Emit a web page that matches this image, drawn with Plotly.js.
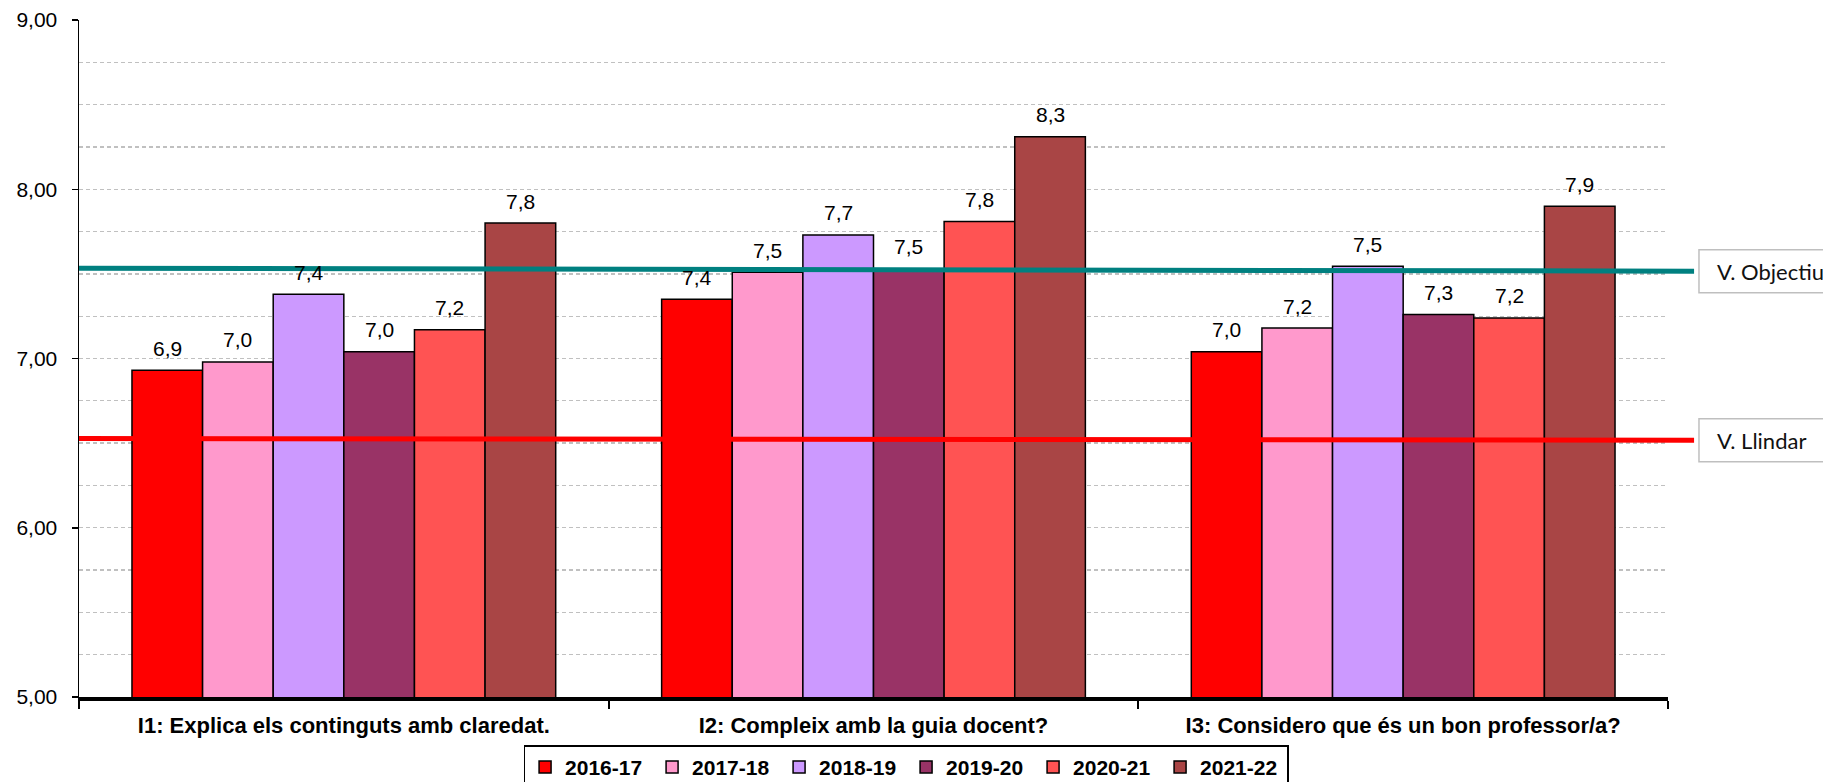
<!DOCTYPE html>
<html>
<head>
<meta charset="utf-8">
<script src="https://cdn.plot.ly/plotly-3.0.1.min.js"></script>
<style>html,body{margin:0;padding:0;background:#fff;}#chart{width:1823px;height:782px;}</style>
</head>
<body>
<div id="chart"></div>
<script>
var categories = ["I1: Explica els continguts amb claredat.", "I2: Compleix amb la guia docent?", "I3: Considero que és un bon professor/a?"];
var seriesNames = ["2016-17", "2017-18", "2018-19", "2019-20", "2020-21", "2021-22"];
var v2016 = [6.93, 7.35, 7.04];
var v2017 = [6.98, 7.51, 7.18];
var v2018 = [7.38, 7.73, 7.545];
var v2019 = [7.04, 7.53, 7.26];
var v2020 = [7.17, 7.81, 7.24];
var v2021 = [7.80, 8.31, 7.90];
var objectiuLine = [7.533, 7.516];
var llindarLine = [6.527, 6.517];
var lineLabels = ["V. Objectiu", "V. Llindar"];

var seriesValues = [v2016, v2017, v2018, v2019, v2020, v2021];
var colors = ["#FF0000", "#FF99CC", "#CC99FF", "#993366", "#FF5353", "#A94545"];

var FONT = "'Liberation Sans', Arial, sans-serif";
var traces = seriesValues.map(function (vals, i) {
  return {
    type: "bar",
    name: seriesNames[i],
    x: categories,
    y: vals,
    marker: { color: colors[i], line: { color: "#000", width: 1.5 } },
    hoverinfo: "skip"
  };
});

var fmt = function (v) { return (Math.round(v * 10) / 10).toFixed(1).replace(".", ","); };
var annotations = [];
var nS = seriesValues.length, groupW = 0.8, barW = groupW / nS;
seriesValues.forEach(function (vals, i) {
  vals.forEach(function (v, c) {
    annotations.push({
      x: c - groupW / 2 + barW * (i + 0.5), xref: "x",
      y: v, yref: "y",
      text: fmt(v), showarrow: false,
      yanchor: "middle", yshift: 22,
      font: { family: FONT, size: 21, color: "#000" }
    });
  });
});

var xEnd = 1.0164;
var boxX0 = 1.0195, textX = 1.0296;
var refLines = [
  { vals: objectiuLine, color: "#008080", label: lineLabels[0] },
  { vals: llindarLine, color: "#FF0000", label: lineLabels[1] }
];
var shapes = [];
refLines.forEach(function (r) {
  shapes.push({ type: "line", xref: "paper", yref: "y", x0: 0, x1: xEnd, y0: r.vals[0], y1: r.vals[1],
    line: { color: r.color, width: 5 } });
  shapes.push({ type: "rect", xref: "paper", yref: "y", x0: boxX0, x1: 1.3, y0: r.vals[1] - 0.127, y1: r.vals[1] + 0.127,
    line: { color: "#BFBFBF", width: 1.5 }, fillcolor: "#fff" });
  annotations.push({ xref: "paper", yref: "y", x: textX, y: r.vals[1], xanchor: "left", yanchor: "middle",
    text: r.label, showarrow: false, font: { family: "Lato, 'Open Sans', sans-serif", size: 22, color: "#111" } });
});

var layout = {
  width: 1823, height: 782,
  margin: { l: 79, r: 155, t: 20, b: 84.5, autoexpand: false },
  paper_bgcolor: "#fff", plot_bgcolor: "#fff",
  separators: ", ",
  barmode: "group", bargap: 0.2, bargroupgap: 0,
  showlegend: true,
  legend: {
    orientation: "h", xref: "paper", x: 0.5205, xanchor: "center",
    yref: "container", y: 0.047, yanchor: "top",
    bordercolor: "#000", borderwidth: 1.5, bgcolor: "#fff",
    font: { family: FONT, size: 21, color: "#000", weight: "bold" },
    traceorder: "normal", entrywidth: 82, itemwidth: 30
  },
  xaxis: {
    type: "category", automargin: false,
    showline: true, linecolor: "#000", linewidth: 3.5,
    ticks: "outside", tickson: "boundaries", ticklen: 8, tickwidth: 2, tickcolor: "#000",
    tickfont: { family: FONT, size: 22, color: "#000", weight: "bold" },
    ticklabelstandoff: 6,
    showgrid: false, zeroline: false, fixedrange: true
  },
  yaxis: {
    range: [5, 9], dtick: 1, tick0: 5, tickformat: ".2f", automargin: false,
    showline: true, linecolor: "#000", linewidth: 1.5,
    ticks: "outside", ticklen: 6, tickwidth: 1.5, tickcolor: "#000",
    tickfont: { family: FONT, size: 21, color: "#000" },
    ticklabelstandoff: 10,
    showgrid: true, gridcolor: "#C0C0C0", gridwidth: 1.3, griddash: "4px,3px",
    minor: { dtick: 0.25, showgrid: true, gridcolor: "#C0C0C0", gridwidth: 1.3, griddash: "4px,3px", ticks: "" },
    zeroline: false, fixedrange: true
  },
  shapes: shapes,
  annotations: annotations,
  hovermode: false
};

Plotly.newPlot("chart", traces, layout, { displayModeBar: false, staticPlot: true });
</script>
</body>
</html>
